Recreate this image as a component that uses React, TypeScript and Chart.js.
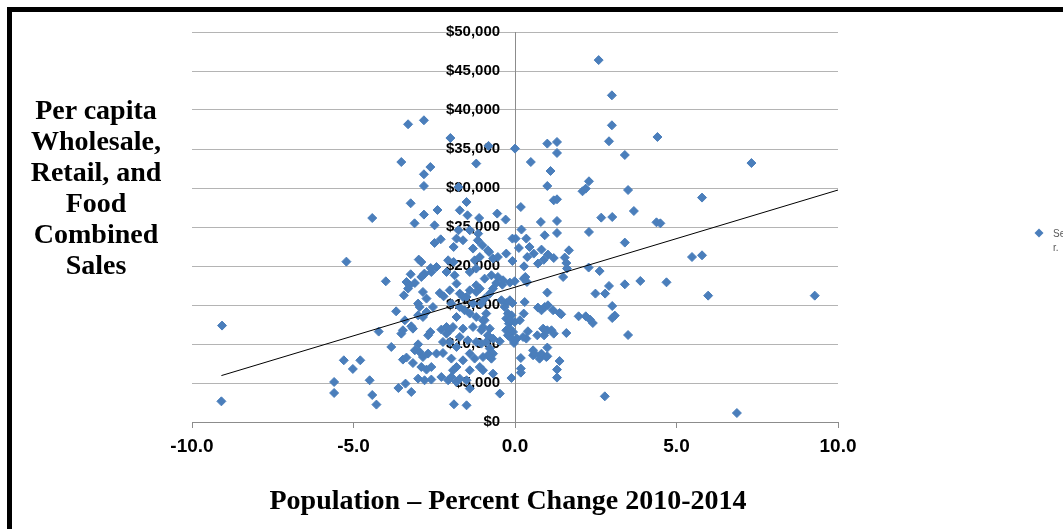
import React, { useEffect, useRef } from "react";
import { Chart, registerables } from "chart.js";

Chart.register(...registerables);

// Population – percent change 2010-2014 (x) for each county
const popChange: number[] = [
  -9.07, -9.09, -5.6, -5.6, -5.3, -5.22, -5.02, -4.79, -4.5, -4.42,
  -4.42, -4.29, -4.22, -4.0, -3.83, -3.68, -3.61, -3.39, -3.52, -3.31,
  -2.82, -2.0, -2.62, -2.82, -2.82, -3.23, -3.11, -2.82, -2.4, -2.49,
  -1.71, -1.5, -1.47, -1.2, -0.82, -0.29, -0.55, 0.18, -1.11, -1.75,
  -1.14, -1.4, -1.81, -1.75, -2.3, -2.49, -1.9, -1.3, -1.15, -2.98,
  -2.9, -2.61, -2.07, -1.9, -1.25, -1.2, -3.23, -2.82, 0.0, 1.0,
  1.3, 1.3, 0.49, 1.1, 1.0, 2.29, 2.19, 2.09, 1.2, 1.3,
  0.8, 1.3, 2.67, 0.2, 0.92, 1.3, 2.29, -0.08, 0.02, 0.35,
  0.12, 0.45, 0.82, 0.58, 1.02, 1.67, 0.38, 1.2, 1.54, -0.08,
  0.71, 1.59, -0.68, -0.8, -1.01, 0.28, 1.61, 2.28, 2.62, 2.59,
  3.0, 3.0, 2.91, 3.4, 4.41, 7.32, 3.5, 5.79, 3.68, 3.01,
  4.38, 4.5, 3.4, 5.48, 5.79, 1.49, 3.4, 3.88, 4.69, 2.91,
  2.49, 2.79, 5.98, 9.28, 1.0, 3.01, 3.01, 3.09, 1.97, 2.19,
  2.32, 2.41, 3.5, 1.59, 2.78, 6.87, 1.38, 1.3, 1.3, 0.18,
  0.18, 0.18, -0.11, -0.47, 1.0, 0.56, 0.56, 0.8, 1.0, -0.47,
  -0.03, 0.06, 0.35, 0.69, 0.9, 1.0, 1.13, 1.2, 0.4, 0.87,
  -0.27, -0.19, -0.01, 0.15, 0.27, 0.71, 0.82, 0.92, 1.02, 1.18,
  1.38, 0.3, -0.27, -0.08, 0.37, 0.27, -0.16, -0.01, -0.39, 0.89,
  0.32, 1.43, 0.97, 0.76, 0.61, 0.82, 0.25, -0.06, -0.22, -0.11,
  -0.16, -0.22, -0.11, -0.27, -0.16, -0.58, -0.68, -0.78, -0.94, -1.04,
  -0.89, -0.94, -0.99, -0.78, -0.84, -0.68, -0.89, -1.04, -0.78, -0.68,
  -0.84, -0.73, -0.99, -0.68, -3.36, -3.26, -3.31, -3.1, -2.9, -2.8,
  -2.59, -3.44, -2.85, -2.74, -3.0, -2.33, -2.21, -2.95, -3.0, -2.85,
  -2.74, -3.41, -3.21, -3.16, -3.47, -3.52, -2.62, -2.69, -2.28, -2.12,
  -2.02, -3.0, -3.1, -2.95, -3.36, -3.47, -2.85, -2.69, -2.43, -2.23,
  -3.16, -2.9, -2.74, -2.59, -3.0, -2.8, -2.59, -2.28, -3.21, -1.89,
  -1.5, -2.07, -1.97, -1.81, -1.71, -1.81, -2.23, -2.12, -1.81, -2.02,
  -1.71, -1.5, -1.4, -1.2, -1.09, -1.3, -1.71, -1.56, -1.81, -1.4,
  -1.2, -0.99, -1.92, -1.61, -1.3, -1.04, -1.71, -1.46, -1.2, -1.81,
  -1.4, -1.25, -1.61, -1.09, -0.99, -1.4, -1.92, -1.97, -1.5, -1.4,
  -2.02, -1.61, -0.84, -1.09, -0.53, -0.27, -2.43, -2.12, -1.87, -1.4,
  -0.94, -0.73, -0.53, -0.37, -2.54, -1.97, -1.61, -1.2, -0.42, -0.16,
  -0.32,
];

// Per capita wholesale, retail and food combined sales ($) for each county
const salesPerCapita: number[] = [
  12360, 2650, 5130, 3720, 7910, 20560, 6800, 7910, 5350, 3460,
  26150, 2230, 11590, 18040, 9620, 14190, 4360, 4920, 33330, 38170,
  38680, 36410, 32690, 31760, 30260, 28040, 25470, 26590, 27180, 25220,
  27140, 28200, 26500, 33130, 35400, 25950, 26720, 27560, 26150, 30130,
  24150, 24580, 23510, 24580, 23420, 22950, 22440, 22230, 23290, 20820,
  20510, 19740, 20730, 20510, 20730, 19670, 18940, 18940, 35050, 35690,
  35900, 34490, 33330, 32180, 30260, 30860, 29920, 29580, 28420, 28550,
  25640, 25770, 26200, 24670, 23940, 24230, 24360, 23510, 23510, 23510,
  22310, 22440, 22100, 21590, 21460, 22010, 21150, 21020, 21080, 20640,
  20310, 20380, 20950, 21790, 22650, 19960, 19670, 19800, 19350, 46400,
  41880, 38040, 35990, 34230, 36540, 33200, 29740, 28770, 27050, 26280,
  25600, 25470, 23000, 21150, 21370, 18590, 17650, 18080, 17910, 17440,
  16460, 16460, 16200, 16200, 16590, 14870, 13330, 13640, 13550, 13550,
  13130, 12690, 11150, 11410, 3290, 1150, 7820, 6720, 5690, 8200,
  6850, 6330, 5640, 3640, 9540, 9190, 8550, 8550, 8420, 10350,
  10130, 10690, 10690, 11110, 11110, 11760, 11760, 11330, 11630, 11970,
  11760, 12620, 12820, 13040, 13900, 14670, 14320, 14740, 14960, 14320,
  13970, 15380, 15260, 15260, 17950, 18380, 17870, 18040, 17610, 20790,
  18590, 13810, 8330, 8120, 8760, 8760, 10900, 11540, 11110, 10690,
  11970, 13900, 13680, 13260, 13040, 17820, 17100, 16460, 15820, 15180,
  13900, 13040, 12180, 11970, 11110, 10690, 10260, 10050, 9410, 8760,
  8550, 8120, 6630, 6200, 17950, 17530, 17100, 17820, 18590, 19020,
  19230, 16240, 16670, 15820, 15180, 16540, 16110, 14740, 13680, 13460,
  14100, 13040, 12270, 11970, 11760, 11330, 11540, 11110, 11850, 12180,
  11760, 9960, 9190, 8970, 8260, 8000, 8330, 8770, 8770, 8850,
  7560, 7050, 6720, 7050, 5560, 5350, 5440, 5770, 3850, 2270,
  2140, 5350, 5770, 5130, 5560, 7050, 10260, 11330, 17740, 16880,
  16460, 16030, 16880, 17530, 17100, 15180, 14740, 14320, 13460, 13900,
  13460, 13040, 12180, 11970, 12180, 11760, 10900, 10470, 10260, 9620,
  8770, 8130, 7910, 7050, 8330, 6630, 6630, 8130, 5350, 4280,
  10260, 23300, 22010, 21150, 21150, 21590, 19870, 19230, 18810, 19230,
  18380, 18810, 18590, 18170, 14740, 15180, 16030, 16670, 15610, 15610,
  14740,
];

// Linear trendline end points
const trendX: number[] = [-9.09, 10];
const trendY: number[] = [5950, 29740];

const xTicks: number[] = [-10, -5, 0, 5, 10];
const yMin = 0;
const yMax = 50000;
const yStep = 5000;

const yTitleLines: string[] = ["Per capita", "Wholesale,", "Retail, and", "Food", "Combined", "Sales"];
const xTitle = "Population \u2013 Percent Change 2010-2014";
const legendLines: string[] = ["Series1", "r."];

const BLUE = "#4A7EBB";
// y tick labels sit just left of the vertical axis (which crosses at x = 0)
const Y_LABEL_AT = -0.46;

export default function App() {
  const ref = useRef<HTMLCanvasElement>(null);

  useEffect(() => {
    if (!ref.current) return;
    const pts = popChange.map((x, i) => ({ x, y: salesPerCapita[i] }));
    const trend = trendX.map((x, i) => ({ x, y: trendY[i] }));
    const labelFont = { family: "'Liberation Sans', Arial, sans-serif", size: 15, weight: "bold" };
    const chart = new Chart(ref.current, {
      type: "scatter",
      data: {
        datasets: [
          {
            type: "line",
            label: "Linear (Series1)",
            data: trend,
            borderColor: "#000000",
            borderWidth: 1,
            pointRadius: 0,
            fill: false,
            tension: 0,
          } as any,
          {
            label: "Series1",
            data: pts,
            pointStyle: "rectRot",
            pointRadius: 4.5,
            pointHoverRadius: 4.5,
            backgroundColor: BLUE,
            borderColor: BLUE,
            borderWidth: 1,
          },
        ],
      },
      options: {
        responsive: false,
        animation: false,
        events: [],
        layout: { padding: { left: 192, right: 225, top: 32, bottom: 0 } },
        plugins: { legend: { display: false }, tooltip: { enabled: false } },
        scales: {
          x: {
            type: "linear",
            min: -10,
            max: 10,
            afterBuildTicks: (s: any) => {
              s.ticks = xTicks.map((v) => ({ value: v }));
            },
            afterFit: (s: any) => {
              s.height = 107;
            },
            ticks: {
              callback: (v: any) => Number(v).toFixed(1),
              font: { family: "'Liberation Sans', Arial, sans-serif", size: 19, weight: "bold" },
              color: "#000000",
              padding: 7,
              maxRotation: 0,
              autoSkip: false,
            },
            grid: { drawOnChartArea: false, drawTicks: true, tickLength: 6, color: "#8c8c8c" },
            border: { display: true, color: "#8c8c8c" },
          },
          y: {
            type: "linear",
            axis: "y",
            min: yMin,
            max: yMax,
            position: { x: 0 } as any,
            ticks: { stepSize: yStep, display: false },
            grid: { color: "#b4b4b4", drawTicks: false },
            border: { display: true, color: "#8c8c8c" },
          },
          yLabels: {
            type: "linear",
            axis: "y",
            min: yMin,
            max: yMax,
            position: { x: Y_LABEL_AT } as any,
            ticks: {
              stepSize: yStep,
              callback: (v: any) => "$" + Number(v).toLocaleString("en-US"),
              font: labelFont,
              color: "#000000",
              padding: 0,
            },
            grid: { display: false, drawTicks: false },
            border: { display: false },
          },
        },
      } as any,
    });
    return () => chart.destroy();
  }, []);

  return (
    <div
      style={{
        position: "fixed",
        left: 0,
        top: 0,
        width: 1063,
        height: 529,
        overflow: "hidden",
        background: "#ffffff",
      }}
    >
      <div
        style={{
          position: "absolute",
          left: 7,
          top: 7,
          width: 1200,
          height: 700,
          border: "5px solid #000000",
          boxSizing: "border-box",
        }}
      />
      <canvas
        ref={ref}
        width={1063}
        height={529}
        style={{ position: "absolute", left: 0, top: 0, width: 1063, height: 529 }}
      />
      <div
        style={{
          position: "absolute",
          left: 0,
          top: 94,
          width: 192,
          textAlign: "center",
          fontFamily: "'Liberation Serif', 'Times New Roman', serif",
          fontWeight: "bold",
          fontSize: 28,
          lineHeight: "31px",
          color: "#000000",
        }}
      >
        {yTitleLines.map((l) => (
          <div key={l}>{l}</div>
        ))}
      </div>
      <div
        style={{
          position: "absolute",
          left: 208,
          top: 483,
          width: 600,
          textAlign: "center",
          fontFamily: "'Liberation Serif', 'Times New Roman', serif",
          fontWeight: "bold",
          fontSize: 28,
          lineHeight: "34px",
          color: "#000000",
          whiteSpace: "nowrap",
        }}
      >
        {xTitle}
      </div>
      <div
        style={{
          position: "absolute",
          left: 1035,
          top: 229,
          width: 8,
          height: 8,
          background: BLUE,
          transform: "rotate(45deg) scale(0.8)",
        }}
      />
      <div
        style={{
          position: "absolute",
          left: 1053,
          top: 227,
          fontFamily: "'Liberation Sans', Arial, sans-serif",
          fontSize: 10,
          lineHeight: "14px",
          color: "#595959",
          whiteSpace: "nowrap",
        }}
      >
        {legendLines.map((l) => (
          <div key={l}>{l}</div>
        ))}
      </div>
    </div>
  );
}
